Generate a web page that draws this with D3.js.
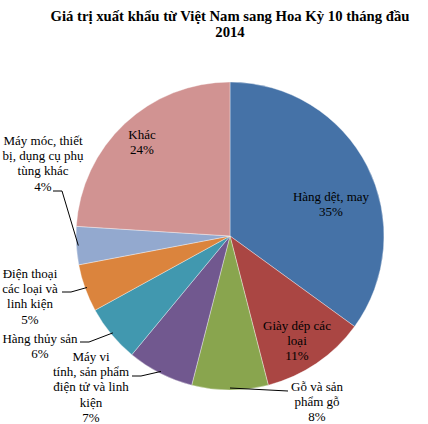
<!DOCTYPE html>
<html><head><meta charset="utf-8">
<script src="https://cdn.jsdelivr.net/npm/d3@7/dist/d3.min.js"></script>
<style>body{margin:0;background:#fff}svg{display:block}</style>
</head><body>
<svg id="c" width="428" height="424"></svg>
<script>
const titleLines = ["Giá trị xuất khẩu từ Việt Nam sang Hoa Kỳ 10 tháng đầu", "2014"];
const categories = ["Hàng dệt, may", "Giày dép các loại", "Gỗ và sản phẩm gỗ", "Máy vi tính, sản phẩm điện tử và linh kiện", "Hàng thủy sản", "Điện thoại các loại và linh kiện", "Máy móc, thiết bị, dụng cụ phụ tùng khác", "Khác"];
const values = [35, 11, 8, 7, 6, 5, 4, 24];
const colors = ["#4572A7", "#AA4643", "#89A54E", "#71588F", "#4198AF", "#DB843D", "#93A9CF", "#D19392"];

// label layout: wrapped lines, label center x, first-line y, and optional leader anchor (x,y)
const labelLayout = [
  {lines: ["Hàng dệt, may"], x: 331, y: 201},
  {lines: ["Giày dép các", "loại"], x: 297, y: 330},
  {lines: ["Gỗ và sản", "phẩm gỗ"], x: 317, y: 391, lead: [288, 391], side: "r"},
  {lines: ["Máy vi", "tính, sản phẩm", "điện tử và linh", "kiện"], x: 91, y: 361, lead: [132, 376], side: "l"},
  {lines: ["Hàng thủy sản"], x: 40, y: 343, lead: [80, 342], side: "l"},
  {lines: ["Điện thoại", "các loại và", "linh kiện"], x: 30, y: 278, lead: [62, 292], side: "l"},
  {lines: ["Máy móc, thiết", "bị, dụng cụ phụ", "tùng khác"], x: 43, y: 145, lead: [53, 191], side: "l"},
  {lines: ["Khác"], x: 142, y: 139}
];

const svg = d3.select("#c");
const cx = 230, cy = 236, R = 154;
const lineH = 15.2;

svg.append("text").attr("x", 230).attr("y", 21)
  .attr("text-anchor", "middle").attr("font-family", "Liberation Serif, Times New Roman, serif")
  .attr("font-weight", "bold").attr("font-size", 14.7)
  .selectAll("tspan").data(titleLines).join("tspan")
  .attr("x", 230).attr("dy", (d, i) => i ? 16 : 0).text(d => d);

const pie = d3.pie().sort(null).value(d => d)(values);
const arc = d3.arc().innerRadius(0).outerRadius(R);
const g = svg.append("g").attr("transform", `translate(${cx},${cy})`);
g.selectAll("path").data(pie).join("path")
  .attr("d", arc).attr("fill", (d, i) => colors[i])
  .attr("stroke", "#fff").attr("stroke-width", 0.6).attr("stroke-opacity", 0.6);

const total = d3.sum(values);
pie.forEach((d, i) => {
  const L = labelLayout[i];
  const pct = Math.round(d.value / total * 100) + "%";
  const all = L.lines.concat([pct]);
  const t = svg.append("text").attr("text-anchor", "middle")
    .attr("font-family", "Liberation Serif, Times New Roman, serif")
    .attr("font-size", 13).attr("fill", "#000");
  all.forEach((s, k) => t.append("tspan").attr("x", L.x).attr("y", L.y + k * lineH).text(s));
  if (L.lead) {
    const a = (d.startAngle + d.endAngle) / 2;
    const ex = cx + Math.sin(a) * (R - 2), ey = cy - Math.cos(a) * (R - 2);
    const [lx, ly] = L.lead;
    const pts = L.side === "r" ? [[lx, ly], [ex, ey]] : [[lx, ly], [lx + 9, ly], [ex, ey]];
    svg.append("path").attr("d", d3.line()(pts)).attr("fill", "none")
      .attr("stroke", "#000").attr("stroke-width", 1);
  }
});
</script>
</body></html>
